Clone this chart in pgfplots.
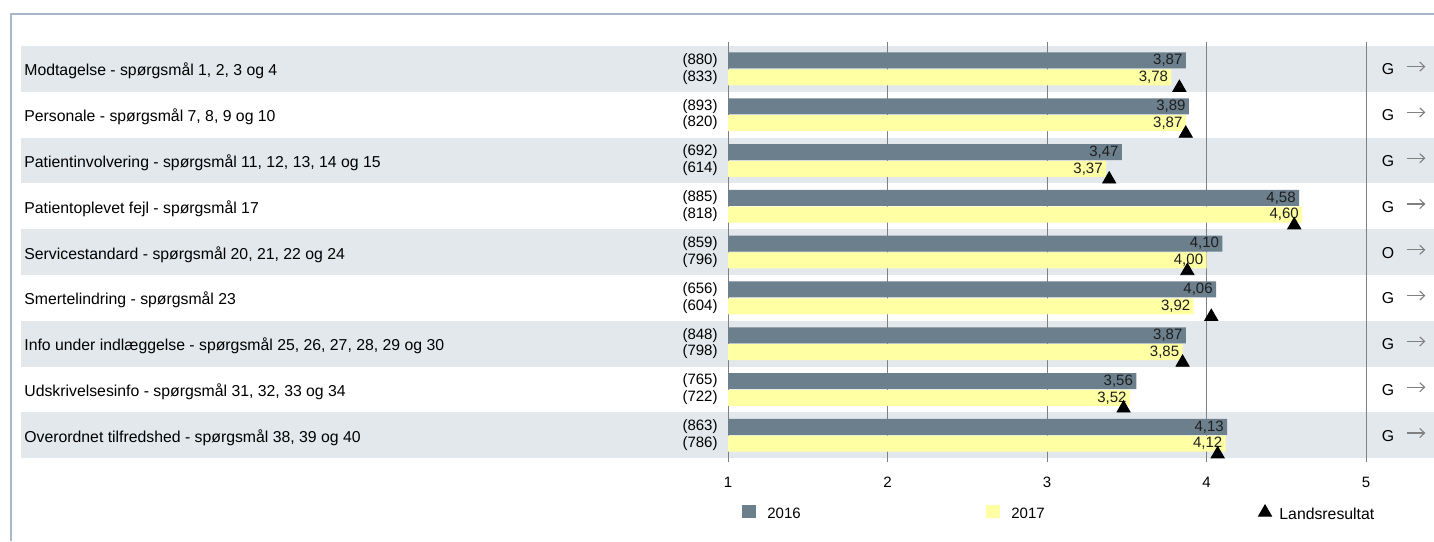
\documentclass[border=0pt]{standalone}
\usepackage{pgfplots}
\pgfplotsset{compat=1.18}
\usetikzlibrary{arrows.meta}
\usepackage{fontspec}
\setmainfont{Liberation Sans}
\definecolor{band}{HTML}{E2E8EC}
\definecolor{frame}{HTML}{A7B8C8}
\definecolor{bar16}{HTML}{6C7F8C}
\definecolor{bar17}{HTML}{FFFFA3}
\definecolor{txt}{HTML}{1E1E1E}
\definecolor{arr}{HTML}{808080}
\newcommand{\cat}{\fontsize{7.9}{9}\selectfont}
\begin{document}
\fontsize{7.5}{9}\selectfont
\begin{tikzpicture}
\useasboundingbox (0,0) rectangle (717pt,270.5pt);
\fill[white] (0,0) rectangle (717pt,270.5pt);
\draw[frame, line width=1pt] (5.5pt,0pt) -- (5.5pt,263.5pt) -- (717pt,263.5pt);
\foreach \a/\b in {247.5/224.6, 201.7/178.8, 155.9/133, 110.1/87.2, 64.3/41.4}
  {\fill[band] (10.5pt,\a pt) rectangle (717pt,\b pt);}
\begin{axis}[
  at={(364pt,39.5pt)}, anchor=south west,
  scale only axis, width=319pt, height=210pt,
  xmin=1, xmax=5, ymin=0.417, ymax=9.587,
  clip mode=individual,
  axis line style={draw=none},
  xtick={1,2,3,4,5}, ytick=\empty,
  major tick length=0pt,
  xmajorgrids, grid style={color=arr, line width=0.5pt},
  xticklabel style={anchor=center, yshift=-10.1pt, text=black},
  /pgf/number format/assume math mode=true,
  legend columns=3,
  legend cell align=left,
  legend style={at={(axis description cs:0.022,-0.122)}, anchor=west,
    draw=none, fill=none, inner sep=0pt, outer sep=0pt,
    nodes={inner sep=0pt, outer sep=0pt, text=black}},
]
\addplot[xbar, bar width=8pt, bar shift=4.2pt, fill=bar16, draw=none,
  point meta=explicit symbolic, nodes near coords,
  every node near coord/.append style={anchor=east, inner sep=1.5pt, yshift=4.2pt, text=txt},
  legend image code/.code={\fill[bar16] (0pt,-1.7pt) rectangle (7pt,4.7pt); \path (12.65pt,0pt);}]
  coordinates {(3.87,9)[3,87] (3.89,8)[3,89] (3.47,7)[3,47] (4.58,6)[4,58] (4.10,5)[4,10]
               (4.06,4)[4,06] (3.87,3)[3,87] (3.56,2)[3,56] (4.13,1)[4,13]};
\addlegendentry{\makebox[109.35pt][l]{2016}}
\addplot[xbar, bar width=8pt, bar shift=-4.2pt, fill=bar17, draw=none,
  point meta=explicit symbolic, nodes near coords,
  every node near coord/.append style={anchor=east, inner sep=1.5pt, yshift=-4.2pt, text=txt},
  legend image code/.code={\fill[bar17] (0pt,-1.7pt) rectangle (7pt,4.7pt); \path (12.65pt,0pt);}]
  coordinates {(3.78,9)[3,78] (3.87,8)[3,87] (3.37,7)[3,37] (4.60,6)[4,60] (4.00,5)[4,00]
               (3.92,4)[3,92] (3.85,3)[3,85] (3.52,2)[3,52] (4.12,1)[4,12]};
\addlegendentry{\makebox[123.15pt][l]{2017}}
\addplot[only marks, mark=triangle*, mark size=3.8pt, black,
  legend image code/.code={\path (0pt,0pt) (10.5pt,0pt); \draw[black, mark=triangle*, mark size=3.8pt, only marks] plot coordinates {(3.5pt,1.2pt)};}]
  coordinates {(3.83,8.59) (3.87,7.59) (3.39,6.59) (4.55,5.59) (3.88,4.59)
               (4.03,3.59) (3.85,2.59) (3.48,1.59) (4.07,0.59)};
\addlegendentry{\cat Landsresultat}
% category labels
\node[anchor=base west, inner sep=0pt] at (axis cs:-3.414,8.845) {\cat Modtagelse - spørgsmål 1, 2, 3 og 4};
\node[anchor=base west, inner sep=0pt] at (axis cs:-3.414,7.845) {\cat Personale - spørgsmål 7, 8, 9 og 10};
\node[anchor=base west, inner sep=0pt] at (axis cs:-3.414,6.845) {\cat Patientinvolvering - spørgsmål 11, 12, 13, 14 og 15};
\node[anchor=base west, inner sep=0pt] at (axis cs:-3.414,5.845) {\cat Patientoplevet fejl - spørgsmål 17};
\node[anchor=base west, inner sep=0pt] at (axis cs:-3.414,4.845) {\cat Servicestandard - spørgsmål 20, 21, 22 og 24};
\node[anchor=base west, inner sep=0pt] at (axis cs:-3.414,3.845) {\cat Smertelindring - spørgsmål 23};
\node[anchor=base west, inner sep=0pt] at (axis cs:-3.414,2.845) {\cat Info under indlæggelse - spørgsmål 25, 26, 27, 28, 29 og 30};
\node[anchor=base west, inner sep=0pt] at (axis cs:-3.414,1.845) {\cat Udskrivelsesinfo - spørgsmål 31, 32, 33 og 34};
\node[anchor=base west, inner sep=0pt] at (axis cs:-3.414,0.845) {\cat Overordnet tilfredshed - spørgsmål 38, 39 og 40};
% counts
\node[anchor=east, inner sep=0pt] at (axis cs:0.937,9.183) {(880)};
\node[anchor=east, inner sep=0pt] at (axis cs:0.937,8.817) {(833)};
\node[anchor=east, inner sep=0pt] at (axis cs:0.937,8.183) {(893)};
\node[anchor=east, inner sep=0pt] at (axis cs:0.937,7.817) {(820)};
\node[anchor=east, inner sep=0pt] at (axis cs:0.937,7.183) {(692)};
\node[anchor=east, inner sep=0pt] at (axis cs:0.937,6.817) {(614)};
\node[anchor=east, inner sep=0pt] at (axis cs:0.937,6.183) {(885)};
\node[anchor=east, inner sep=0pt] at (axis cs:0.937,5.817) {(818)};
\node[anchor=east, inner sep=0pt] at (axis cs:0.937,5.183) {(859)};
\node[anchor=east, inner sep=0pt] at (axis cs:0.937,4.817) {(796)};
\node[anchor=east, inner sep=0pt] at (axis cs:0.937,4.183) {(656)};
\node[anchor=east, inner sep=0pt] at (axis cs:0.937,3.817) {(604)};
\node[anchor=east, inner sep=0pt] at (axis cs:0.937,3.183) {(848)};
\node[anchor=east, inner sep=0pt] at (axis cs:0.937,2.817) {(798)};
\node[anchor=east, inner sep=0pt] at (axis cs:0.937,2.183) {(765)};
\node[anchor=east, inner sep=0pt] at (axis cs:0.937,1.817) {(722)};
\node[anchor=east, inner sep=0pt] at (axis cs:0.937,1.183) {(863)};
\node[anchor=east, inner sep=0pt] at (axis cs:0.937,0.817) {(786)};
% right column
\node[anchor=base, inner sep=0pt] at (axis cs:5.138,8.867) {\cat G};
\node[anchor=base, inner sep=0pt] at (axis cs:5.138,7.867) {\cat G};
\node[anchor=base, inner sep=0pt] at (axis cs:5.138,6.867) {\cat G};
\node[anchor=base, inner sep=0pt] at (axis cs:5.138,5.867) {\cat G};
\node[anchor=base, inner sep=0pt] at (axis cs:5.138,4.867) {\cat O};
\node[anchor=base, inner sep=0pt] at (axis cs:5.138,3.867) {\cat G};
\node[anchor=base, inner sep=0pt] at (axis cs:5.138,2.867) {\cat G};
\node[anchor=base, inner sep=0pt] at (axis cs:5.138,1.867) {\cat G};
\node[anchor=base, inner sep=0pt] at (axis cs:5.138,0.867) {\cat G};
\draw[arr, line width=0.55pt, -{Straight Barb[length=2.4pt,width=4.6pt]}] (axis cs:5.257,9.05) -- (axis cs:5.372,9.05);
\draw[arr, line width=0.55pt, -{Straight Barb[length=2.4pt,width=4.6pt]}] (axis cs:5.257,8.05) -- (axis cs:5.372,8.05);
\draw[arr, line width=0.55pt, -{Straight Barb[length=2.4pt,width=4.6pt]}] (axis cs:5.257,7.05) -- (axis cs:5.372,7.05);
\draw[arr, line width=0.55pt, -{Straight Barb[length=2.4pt,width=4.6pt]}] (axis cs:5.257,6.05) -- (axis cs:5.372,6.05);
\draw[arr, line width=0.55pt, -{Straight Barb[length=2.4pt,width=4.6pt]}] (axis cs:5.257,5.05) -- (axis cs:5.372,5.05);
\draw[arr, line width=0.55pt, -{Straight Barb[length=2.4pt,width=4.6pt]}] (axis cs:5.257,4.05) -- (axis cs:5.372,4.05);
\draw[arr, line width=0.55pt, -{Straight Barb[length=2.4pt,width=4.6pt]}] (axis cs:5.257,3.05) -- (axis cs:5.372,3.05);
\draw[arr, line width=0.55pt, -{Straight Barb[length=2.4pt,width=4.6pt]}] (axis cs:5.257,2.05) -- (axis cs:5.372,2.05);
\draw[arr, line width=0.55pt, -{Straight Barb[length=2.4pt,width=4.6pt]}] (axis cs:5.257,1.05) -- (axis cs:5.372,1.05);
\end{axis}
\end{tikzpicture}
\end{document}
